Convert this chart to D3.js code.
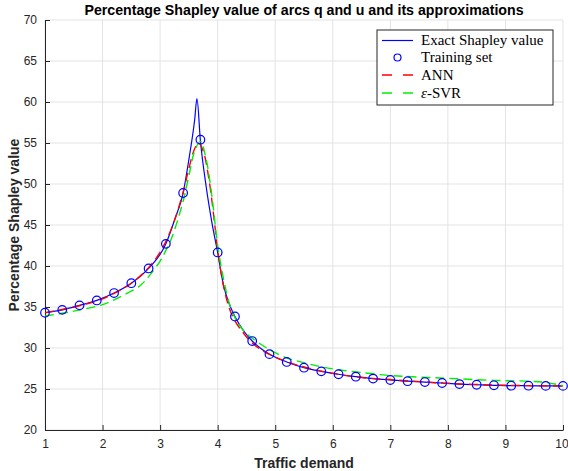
<!DOCTYPE html>
<html>
<head>
<meta charset="utf-8">
<script src="https://cdn.jsdelivr.net/npm/d3@7"></script>
<style>
  body { margin: 0; background: #fff; }
  text { fill: #262626; }
</style>
</head>
<body>
<div class="chart"></div>
<script>
// traffic demand / percentage shapley values
const xTicks = [1, 2, 3, 4, 5, 6, 7, 8, 9, 10]
const yTicks = [20, 25, 30, 35, 40, 45, 50, 55, 60, 65, 70]

const trainX = [1, 1.3, 1.6, 1.9, 2.2, 2.5, 2.8, 3.1, 3.4, 3.7, 4, 4.3, 4.6, 4.9, 5.2, 5.5,
  5.8, 6.1, 6.4, 6.7, 7, 7.3, 7.6, 7.9, 8.2, 8.5, 8.8, 9.1, 9.4, 9.7, 10]
const trainY = [34.3, 34.65, 35.2, 35.8, 36.7, 37.9, 39.7, 42.7, 48.9, 55.4, 41.65, 33.85, 30.85,
  29.25, 28.3, 27.6, 27.15, 26.8, 26.5, 26.27, 26.1, 25.95, 25.85, 25.73, 25.6, 25.52, 25.45,
  25.4, 25.4, 25.38, 25.38]

const exactX = [1, 1.3, 1.6, 1.9, 2.2, 2.5, 2.8, 3.1, 3.25, 3.4, 3.5, 3.6, 3.64, 3.7, 3.8, 3.9,
  4, 4.1, 4.2, 4.3, 4.45, 4.6, 4.75, 4.9, 5.2, 5.5, 5.8, 6.1, 6.4, 6.7, 7, 7.3, 7.6, 7.9,
  8.2, 8.5, 8.8, 9.1, 9.4, 9.7, 10]
const exactY = [34.3, 34.65, 35.2, 35.8, 36.7, 37.9, 39.7, 42.7, 45.6, 48.9, 53.0, 57.8, 60.4,
  55.3, 49.7, 45.3, 41.65, 37.7, 35.4, 33.85, 32.1, 30.85, 29.95, 29.25, 28.3, 27.6, 27.15,
  26.8, 26.5, 26.27, 26.1, 25.95, 25.85, 25.73, 25.6, 25.52, 25.45, 25.4, 25.4, 25.38, 25.38]

const annX = [1, 1.5, 2, 2.5, 2.8, 3, 3.2, 3.4, 3.5, 3.6, 3.67, 3.75, 3.85, 3.95, 4, 4.1, 4.2,
  4.3, 4.45, 4.6, 4.8, 5, 5.3, 5.6, 6, 6.5, 7, 7.5, 8, 8.5, 9, 9.5, 10]
const annY = [34.3, 35.0, 36.0, 37.9, 39.8, 41.7, 44.6, 49.0, 51.9, 54.3, 55.0, 54.0, 50.5, 45.0,
  41.9, 37.6, 34.9, 33.3, 31.8, 30.6, 29.6, 28.9, 28.1, 27.5, 26.9, 26.4, 26.15, 25.9, 25.68,
  25.55, 25.45, 25.4, 25.35]

const svrX = [1, 1.5, 2, 2.35, 2.65, 2.8, 3, 3.1, 3.2, 3.4, 3.5, 3.6, 3.7, 3.8, 3.9, 4, 4.1, 4.2,
  4.3, 4.45, 4.6, 4.9, 5.2, 5.5, 5.8, 6.1, 6.5, 7, 7.5, 8, 8.8, 9.4, 9.7, 10]
const svrY = [33.9, 34.5, 35.3, 36.4, 37.6, 38.7, 40.6, 41.9, 43.4, 47.9, 51.0, 54.0, 55.2, 53.0,
  48.5, 42.5, 38.5, 35.5, 33.7, 32.1, 31.2, 29.8, 28.8, 28.2, 27.7, 27.35, 27.0, 26.65, 26.45,
  26.3, 26.05, 25.95, 25.8, 25.4]

const legendItems = ["Exact Shapley value", "Training set", "ANN", "-SVR"]

const W = 568, H = 471
const margin = {top: 20, right: 5, bottom: 41, left: 45}

const svg = d3.select(".chart")
  .append("svg")
    .attr("width", W)
    .attr("height", H)
    .style("font-family", "'Liberation Sans', Arial, sans-serif")

let x = d3.scaleLinear().domain([1, 10]).range([margin.left, W - margin.right])
let y = d3.scaleLinear().domain([20, 70]).range([H - margin.bottom, margin.top])

// grid
svg.append("g")
  .selectAll("line.vg")
  .data(xTicks)
  .enter().append("line")
    .attr("x1", d => x(d)).attr("x2", d => x(d))
    .attr("y1", y(20)).attr("y2", y(70))
    .attr("stroke", "#e3e3e3")
svg.append("g")
  .selectAll("line.hg")
  .data(yTicks)
  .enter().append("line")
    .attr("x1", x(1)).attr("x2", x(10))
    .attr("y1", d => y(d)).attr("y2", d => y(d))
    .attr("stroke", "#e3e3e3")

// axes, ticks pointing inwards like matlab
const xAxis = svg.append("g")
  .attr("transform", "translate(0," + y(20) + ")")
  .call(d3.axisBottom(x).tickValues(xTicks).tickSizeInner(-5).tickSizeOuter(0).tickPadding(9))
const yAxis = svg.append("g")
  .attr("transform", "translate(" + x(1) + ",0)")
  .call(d3.axisLeft(y).tickValues(yTicks).tickSizeInner(-5).tickSizeOuter(0).tickPadding(8))

;[xAxis, yAxis].forEach(a => {
  a.select(".domain").attr("stroke", "#262626").attr("stroke-width", 1)
  a.selectAll(".tick line").attr("stroke", "#262626")
  a.selectAll(".tick text").attr("font-size", 12).attr("fill", "#262626")
    .attr("font-family", "'Liberation Sans', Arial, sans-serif")
})
// last label sits on the window edge
xAxis.selectAll(".tick text").filter(d => d == 10).attr("dx", -1.5)

// lines
const line = d3.line().x(d => x(d[0])).y(d => y(d[1]))
const plot = svg.append("g")

plot.append("path")
  .datum(exactX.map((v, i) => [v, exactY[i]]))
  .attr("d", line.curve(d3.curveMonotoneX))
  .attr("fill", "none").attr("stroke", "#0000ff").attr("stroke-width", 1.2)

plot.append("path")
  .datum(annX.map((v, i) => [v, annY[i]]))
  .attr("d", line.curve(d3.curveCatmullRom))
  .attr("fill", "none").attr("stroke", "#ff0000").attr("stroke-width", 1.4)
  .attr("stroke-dasharray", "9,5")

plot.append("path")
  .datum(svrX.map((v, i) => [v, svrY[i]]))
  .attr("d", line.curve(d3.curveCatmullRom))
  .attr("fill", "none").attr("stroke", "#00ee00").attr("stroke-width", 1.4)
  .attr("stroke-dasharray", "9,5")

plot.selectAll("circle")
  .data(trainX)
  .enter().append("circle")
    .attr("cx", d => x(d))
    .attr("cy", (d, i) => y(trainY[i]))
    .attr("r", 4.3)
    .attr("fill", "none").attr("stroke", "#0000ff").attr("stroke-width", 1.2)

// title + labels
svg.append("text")
  .attr("x", (x(1) + x(10)) / 2).attr("y", 15)
  .attr("text-anchor", "middle").attr("font-weight", "bold").attr("font-size", 14.2)
  .style("fill", "#000")
  .text("Percentage Shapley value of arcs q and u and its approximations")

svg.append("text")
  .attr("x", (x(1) + x(10)) / 2).attr("y", 468)
  .attr("text-anchor", "middle").attr("font-weight", "bold").attr("font-size", 14)
  .text("Traffic demand")

svg.append("text")
  .attr("transform", "translate(19," + ((y(20) + y(70)) / 2) + ") rotate(-90)")
  .attr("text-anchor", "middle").attr("font-weight", "bold").attr("font-size", 14)
  .text("Percentage Shapley value")

// legend
const lg = svg.append("g").attr("transform", "translate(377,30)")
lg.append("rect")
  .attr("width", 176).attr("height", 75)
  .attr("fill", "#fff").attr("stroke", "#262626").attr("stroke-width", 1)

const rowY = [10.5, 27.5, 45, 63]
lg.append("line").attr("x1", 5).attr("x2", 36).attr("y1", rowY[0]).attr("y2", rowY[0])
  .attr("stroke", "#0000ff").attr("stroke-width", 1.2)
lg.append("circle").attr("cx", 20.5).attr("cy", rowY[1]).attr("r", 3.5)
  .attr("fill", "none").attr("stroke", "#0000ff").attr("stroke-width", 1.2)
;[["#ff0000", 2], ["#00ee00", 3]].forEach(([c, r]) => {
  lg.append("line").attr("x1", 5).attr("x2", 36).attr("y1", rowY[r]).attr("y2", rowY[r])
    .attr("stroke", c).attr("stroke-width", 1.4).attr("stroke-dasharray", "10,11")
})

legendItems.forEach((t, i) => {
  const tx = lg.append("text")
    .attr("x", 44).attr("y", rowY[i] + 4.5)
    .attr("font-family", "'Liberation Serif', 'Times New Roman', serif")
    .attr("font-size", 15)
    .style("fill", "#000")
  if (i == 3) tx.append("tspan").attr("font-style", "italic").text("ε")
  tx.append("tspan").text(t)
})
</script>
</body>
</html>
